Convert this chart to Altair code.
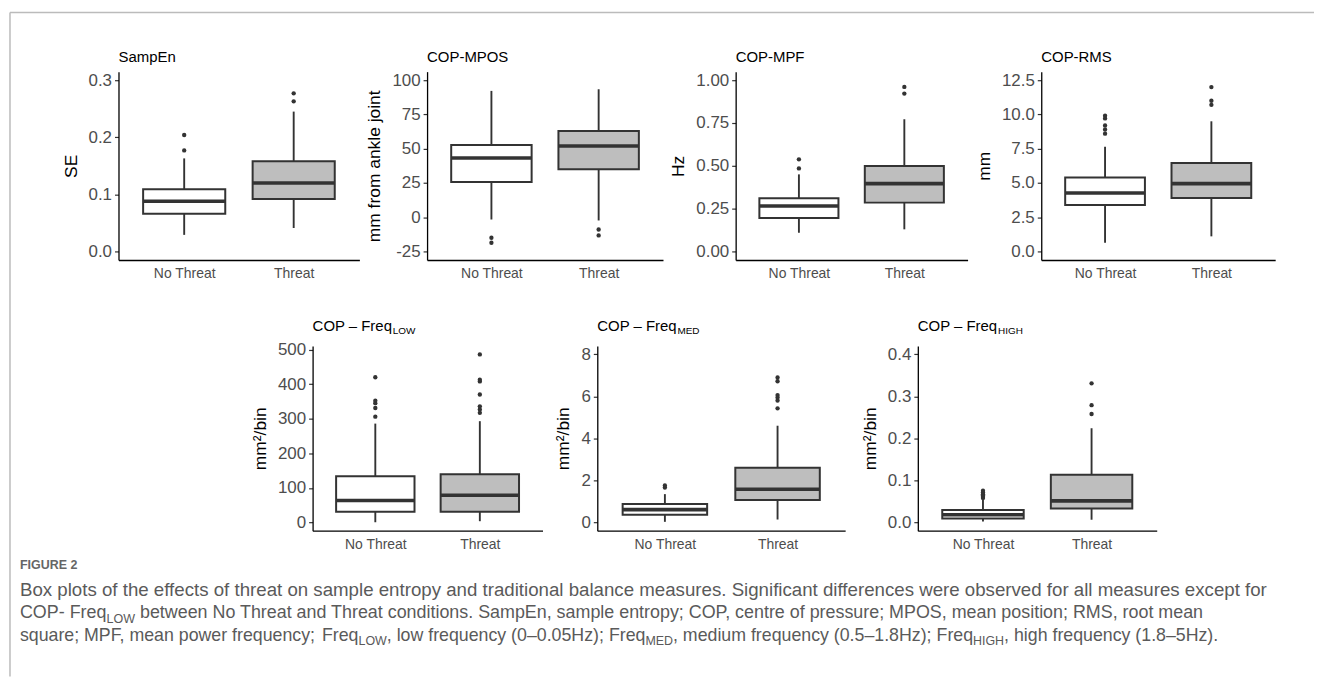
import altair as alt
import pandas as pd

# ------------------------------------------------------------------ data
panels = ["SampEn", "COP-MPOS", "COP-MPF", "COP-RMS",
          "COP-FreqLOW", "COP-FreqMED", "COP-FreqHIGH"]
groups = ["No Threat", "Threat"]
y_titles = ["SE", "mm from ankle joint", "Hz", "mm", "mm²/bin", "mm²/bin", "mm²/bin"]

# box-plot summaries (whisker low, Q1, median, Q3, whisker high) per panel
nt_low = [0.029, -1.7, 0.109, 0.63, 1, 0.02, 0.002]
nt_q1 = [0.066, 25.7, 0.195, 3.39, 31, 0.36, 0.009]
nt_med = [0.088, 43.2, 0.265, 4.26, 64, 0.60, 0.018]
nt_q3 = [0.109, 52.7, 0.310, 5.40, 134, 0.87, 0.029]
nt_high = [0.163, 92.2, 0.450, 7.65, 286, 1.34, 0.055]

t_low = [0.041, -2.4, 0.129, 1.10, 4, 0.13, 0.006]
t_q1 = [0.092, 35.0, 0.285, 3.90, 31, 1.06, 0.033]
t_med = [0.120, 52.0, 0.396, 4.95, 79, 1.57, 0.051]
t_q3 = [0.158, 62.9, 0.499, 6.45, 140, 2.60, 0.113]
t_high = [0.245, 93.4, 0.772, 9.50, 293, 4.60, 0.224]

nt_out = [[0.177, 0.204], [-15.0, -18.7], [0.485, 0.538],
          [8.6, 8.9, 9.2, 9.71, 9.91], [306, 331, 345, 352, 420],
          [1.65, 1.75], [0.058, 0.061, 0.064, 0.067, 0.071, 0.075]]
t_out = [[0.263, 0.277], [-9.0, -13.3], [0.922, 0.961],
         [10.7, 11.0, 12.0], [317, 327, 336, 370, 408, 413, 486],
         [5.43, 5.8, 5.95, 6.06, 6.72, 6.9], [0.258, 0.279, 0.331]]

# axis limits (None = from data) and tick labels
y_limits = [(0, 0.3), (-25, 100), (0, 1.0), (0, 12.5), None, (0, 8), (0, 0.4)]
y_ticks = [[0, 0.1, 0.2, 0.3], [-25, 0, 25, 50, 75, 100],
           [0, 0.25, 0.5, 0.75, 1.0], [0, 2.5, 5, 7.5, 10, 12.5],
           [0, 100, 200, 300, 400, 500], [0, 2, 4, 6, 8], [0, 0.1, 0.2, 0.3, 0.4]]
y_formats = [".1f", "d", ".2f", ".1f", "d", "d", ".1f"]

titles_main = ["SampEn", "COP-MPOS", "COP-MPF", "COP-RMS", "COP – Freq", "COP – Freq", "COP – Freq"]
titles_sub = ["", "", "", "", "LOW", "MED", "HIGH"]

figure_label = "FIGURE 2"
caption_lines = [
    [("Box plots of the effects of threat on sample entropy and traditional balance measures. "
      "Significant differences were observed for all measures except for", False)],
    [("COP- Freq", False), ("LOW", True),
     (" between No Threat and Threat conditions. SampEn, sample entropy; COP, centre of pressure; "
      "MPOS, mean position; RMS, root mean", False)],
    [("square; MPF, mean power frequency; Freq", False), ("LOW", True),
     (", low frequency (0–0.05Hz); Freq", False), ("MED", True),
     (", medium frequency (0.5–1.8Hz); Freq", False), ("HIGH", True),
     (", high frequency (1.8–5Hz).", False)],
]

# ------------------------------------------------------------------ layout / style
W, H = 1312, 670
M = 8
FONT = "Liberation Sans"
EDGE = "#333333"
PLOT_X = [(119, 361), (429, 666), (739, 972), (1046, 1281),
          (314, 545), (600, 849), (922, 1162)]
ROW_Y = [(70.4, 259.6)] * 4 + [(346.0, 531.5)] * 3
TITLE_BASE = [60.5] * 4 + [331.0] * 3

# Arial / Liberation Sans advance widths (per 1000 em)
AW = {' ': 278, '(': 333, ')': 333, ',': 278, '-': 333, '.': 278, ';': 278, ':': 278,
      '–': 556, '²': 333}
for c in "0123456789":
    AW[c] = 556
AW.update(dict(zip("ABCDEFGHIJKLMNOPQRSTUVWXYZ",
                   [667, 667, 722, 722, 667, 611, 778, 722, 278, 500, 667, 556, 833,
                    722, 778, 667, 778, 722, 667, 611, 722, 667, 944, 667, 667, 611])))
AW.update(dict(zip("abcdefghijklmnopqrstuvwxyz",
                   [556, 556, 500, 556, 556, 278, 556, 556, 222, 222, 500, 222, 833,
                    556, 556, 556, 556, 333, 500, 278, 556, 500, 722, 500, 500, 500])))


def tw(s, fs):
    return sum(AW.get(c, 556) for c in s) / 1000.0 * fs


def expand(lo, hi, f=0.05):
    d = (hi - lo) * f
    return [lo - d, hi + d]


def text_layer(s, x, y, fs, color, align="left", weight="normal"):
    return alt.Chart(pd.DataFrame({"t": [s]})).mark_text(
        align=align, baseline="alphabetic", font=FONT, fontSize=fs,
        fontWeight=weight, color=color).encode(
        x=alt.value(x), y=alt.value(y), text="t:N")


rows, orows = [], []
for i, p in enumerate(panels):
    rows.append(dict(panel=p, group=groups[0], pos=1, lo=nt_low[i], q1=nt_q1[i],
                     med=nt_med[i], q3=nt_q3[i], hi=nt_high[i]))
    rows.append(dict(panel=p, group=groups[1], pos=2, lo=t_low[i], q1=t_q1[i],
                     med=t_med[i], q3=t_q3[i], hi=t_high[i]))
    for v in nt_out[i]:
        orows.append(dict(panel=p, group=groups[0], pos=1, value=v))
    for v in t_out[i]:
        orows.append(dict(panel=p, group=groups[1], pos=2, value=v))
stats = pd.DataFrame(rows)
outs = pd.DataFrame(orows)

fill_scale = alt.Scale(domain=groups, range=["#FFFFFF", "#BEBEBE"])
label_expr = f"datum.value == 1 ? '{groups[0]}' : '{groups[1]}'"

layers = []
for i, p in enumerate(panels):
    x0, x1 = PLOT_X[i]
    yt, yb = ROW_Y[i]
    if y_limits[i] is None:
        vals = [nt_low[i], t_low[i], nt_high[i], t_high[i]] + nt_out[i] + t_out[i]
        dom = expand(min(vals), max(vals))
    else:
        dom = expand(*y_limits[i])
    xs = alt.Scale(domain=[0.4, 2.6], range=[x0 - M, x1 - M], nice=False, zero=False)
    ys = alt.Scale(domain=dom, range=[yb - M, yt - M], nice=False, zero=False)

    xaxis = alt.Axis(orient="bottom", offset=(yb - M) - H, values=[1, 2],
                     labelExpr=label_expr, ticks=False, tickSize=0, grid=False,
                     title=None, domainColor="black", domainWidth=1.3,
                     labelColor="#4D4D4D", labelFont=FONT, labelFontSize=14,
                     labelPadding=7, labelFlush=False, labelOverlap=False)
    yaxis = alt.Axis(orient="left", offset=-(x0 - M), values=y_ticks[i],
                     format=y_formats[i], labelExpr="replace(datum.label, '−', '-')",
                     grid=False, title=y_titles[i], domainColor="black",
                     domainWidth=1.3, tickColor=EDGE, tickWidth=1.2, tickSize=4,
                     labelColor="#4D4D4D", labelFont=FONT, labelFontSize=17,
                     labelPadding=3, titleFont=FONT, titleFontSize=17.5,
                     titleFontWeight="normal", titleColor="black", titlePadding=8,
                     minExtent=0, labelFlush=False, labelOverlap=False)

    base = alt.Chart(stats).transform_filter(alt.datum.panel == p).transform_calculate(
        xl="datum.pos - 0.375", xr="datum.pos + 0.375")

    whisk = base.mark_rule(color=EDGE, strokeWidth=1.9).encode(
        x=alt.X("pos:Q", scale=xs, axis=None),
        y=alt.Y("lo:Q", scale=ys, axis=None), y2="hi:Q")
    box = base.mark_bar(stroke=EDGE, strokeWidth=2).encode(
        x=alt.X("xl:Q", scale=xs, axis=xaxis), x2="xr:Q",
        y=alt.Y("q1:Q", scale=ys, axis=yaxis), y2="q3:Q",
        fill=alt.Fill("group:N", scale=fill_scale, legend=None))
    med = base.mark_rule(color=EDGE, strokeWidth=3.6).encode(
        x=alt.X("xl:Q", scale=xs, axis=None), x2="xr:Q",
        y=alt.Y("med:Q", scale=ys, axis=None))
    pts = alt.Chart(outs).transform_filter(alt.datum.panel == p).mark_circle(
        color=EDGE, size=19, opacity=1).encode(
        x=alt.X("pos:Q", scale=xs, axis=None),
        y=alt.Y("value:Q", scale=ys, axis=None))
    layers += [whisk, box, med, pts]

    # panel title (with subscript where needed)
    tfs = 15
    layers.append(text_layer(titles_main[i], x0 - M, TITLE_BASE[i] - M, tfs, "black"))
    if titles_sub[i]:
        layers.append(text_layer(titles_sub[i], x0 - M + tw(titles_main[i], tfs) + 0.5,
                                 TITLE_BASE[i] - M + 3, 10, "black"))

# ------------------------------------------------------------------ caption
CAP_X = 20
CAP_COLOR = "#5A5A5A"
cap_targets = [1312, 1198, 1200]            # right ends of the caption lines
cap_base = [597.0, 619.5, 642.0]
SUB_R = 0.7

layers.append(text_layer(figure_label, CAP_X - M, 570 - M, 12.5, "#666666", weight="bold"))

fit_fs = []
for li, segs in enumerate(caption_lines):
    em = sum(tw(s, SUB_R if sub else 1.0) for s, sub in segs)
    fit_fs.append((cap_targets[li] - CAP_X) / em)
mean_fs = sum(fit_fs) / len(fit_fs)

for li, segs in enumerate(caption_lines):
    cfs = 0.5 * (fit_fs[li] + mean_fs)
    sfs = cfs * SUB_R
    x = CAP_X
    for k, (s, is_sub) in enumerate(segs):
        fs = sfs if is_sub else cfs
        w = tw(s, fs)
        y = cap_base[li] - M + (0.25 * cfs if is_sub else 0)
        next_is_sub = k + 1 < len(segs) and segs[k + 1][1]
        lead = len(s) - len(s.lstrip(" "))
        if not is_sub and next_is_sub:
            # head left-aligned, last word glued (right-aligned) to the subscript
            head, _, last = s.rpartition(" ")
            if head.strip(" "):
                layers.append(text_layer(head.strip(" "), x + tw(" " * lead, fs) - M, y, fs, CAP_COLOR))
            layers.append(text_layer(last, x + w - M, y, fs, CAP_COLOR, align="right"))
        else:
            layers.append(text_layer(s.strip(" "), x + tw(" " * lead, fs) - M, y, fs, CAP_COLOR))
        x += w

# ------------------------------------------------------------------ frame
frame_df = pd.DataFrame({"k": [0]})
layers.append(alt.Chart(frame_df).mark_rule(color="#BBBBBB", strokeWidth=1.5).encode(
    x=alt.value(10 - M), x2=alt.value(W), y=alt.value(11 - M)))
layers.append(alt.Chart(frame_df).mark_rule(color="#BBBBBB", strokeWidth=1.5).encode(
    x=alt.value(10 - M), y=alt.value(11 - M), y2=alt.value(H)))

chart = alt.layer(*layers).resolve_scale(x="independent", y="independent").properties(
    width=W, height=H, padding=0, background="white",
    autosize=alt.AutoSizeParams(type="none")).configure_view(stroke=None)

chart.save("out.html", embed_options={"renderer": "svg", "actions": False})
